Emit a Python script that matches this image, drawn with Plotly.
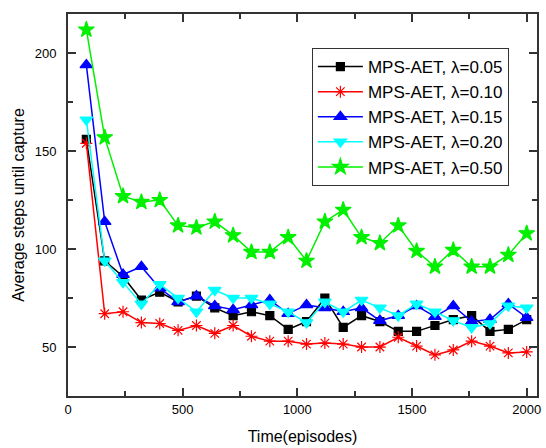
import plotly.graph_objects as go

episodes = [80, 160, 240, 320, 400, 480, 560, 640, 720, 800, 880, 960, 1040,
            1120, 1200, 1280, 1360, 1440, 1520, 1600, 1680, 1760, 1840, 1920, 2000]

lam_005 = [156, 94, 86, 74, 78, 73, 76, 70, 66, 68, 66, 59, 63,
           75, 60, 66, 63, 58, 58, 61, 64, 66, 58, 59, 64]
lam_010 = [154, 67, 68, 62.5, 62, 58.5, 61, 57, 61, 55.5, 53, 53, 51.5,
           52, 51.5, 50, 50, 55, 50.5, 46, 48.5, 53, 50.5, 47, 47.5]
lam_015 = [194, 114, 87, 91, 80, 73, 76, 71, 69, 71.5, 74, 67, 71.5,
           70, 68, 70, 63.5, 66, 71, 65.5, 71, 63, 64, 72, 65]
lam_020 = [166, 94, 83, 72, 82, 75, 68, 79, 75, 75, 72, 68, 62.5,
           73, 68, 74, 70, 66, 72, 68, 63.5, 60, 62, 71, 70]
lam_050 = [212, 157, 127, 124, 125, 112, 111, 114, 107, 98.5, 98.5, 106, 94,
           114, 120, 106, 103, 112, 99, 91, 99.5, 91, 91, 97, 108]

series_names = ["MPS-AET, λ=0.05", "MPS-AET, λ=0.10", "MPS-AET, λ=0.15",
                "MPS-AET, λ=0.20", "MPS-AET, λ=0.50"]

FONT = "Liberation Sans, Arial"

fig = go.Figure()
styles = [
    (lam_005, "black", "square", 8),
    (lam_010, "red", "asterisk-open", 10),
    (lam_015, "blue", "triangle-up", 11),
    (lam_020, "cyan", "triangle-down", 11),
    (lam_050, "#00f000", "star", 12),
]
for name, (vals, color, sym, size) in zip(series_names, styles):
    fig.add_trace(go.Scatter(
        x=episodes, y=vals, name=name, mode="lines+markers",
        line=dict(color=color, width=1.5),
        marker=dict(symbol=sym, size=size, color=color,
                    line=dict(color=color, width=1.2)),
    ))

axis_common = dict(
    showline=True, linecolor="#333333", linewidth=2, mirror="ticks",
    ticks="inside", tickcolor="#333333", tickwidth=1.5,
    showgrid=False, zeroline=False,
    tickfont=dict(family=FONT, size=13, color="black"),
)

fig.update_xaxes(
    range=[0, 2045], tick0=0, dtick=500, ticklen=8,
    minor=dict(ticks="inside", dtick=250, ticklen=5, tickcolor="#333333", tickwidth=1.5),
    title=dict(text="Time(episodes)", font=dict(family=FONT, size=16, color="black"), standoff=15),
    **axis_common,
)
fig.update_yaxes(
    range=[25, 220], tick0=0, dtick=50, ticklen=8, ticklabelstandoff=7,
    minor=dict(ticks="inside", dtick=25, ticklen=5, tickcolor="#333333", tickwidth=1.5),
    title=dict(text="Average steps until capture", font=dict(family=FONT, size=16, color="black"), standoff=6),
    **axis_common,
)

fig.update_layout(
    width=546, height=448,
    margin=dict(l=68, r=5, t=14, b=49),
    plot_bgcolor="white", paper_bgcolor="white",
    font=dict(family=FONT, color="black"),
    legend=dict(
        x=0.52, y=0.911, xanchor="left", yanchor="top",
        bordercolor="#333333", borderwidth=1, bgcolor="white",
        font=dict(family=FONT, size=17, color="black"),
        tracegroupgap=0, itemwidth=45,
    ),
    showlegend=True,
)

fig.write_html("out.html", config={"displayModeBar": False},
               post_script="document.body.style.margin='0';")
